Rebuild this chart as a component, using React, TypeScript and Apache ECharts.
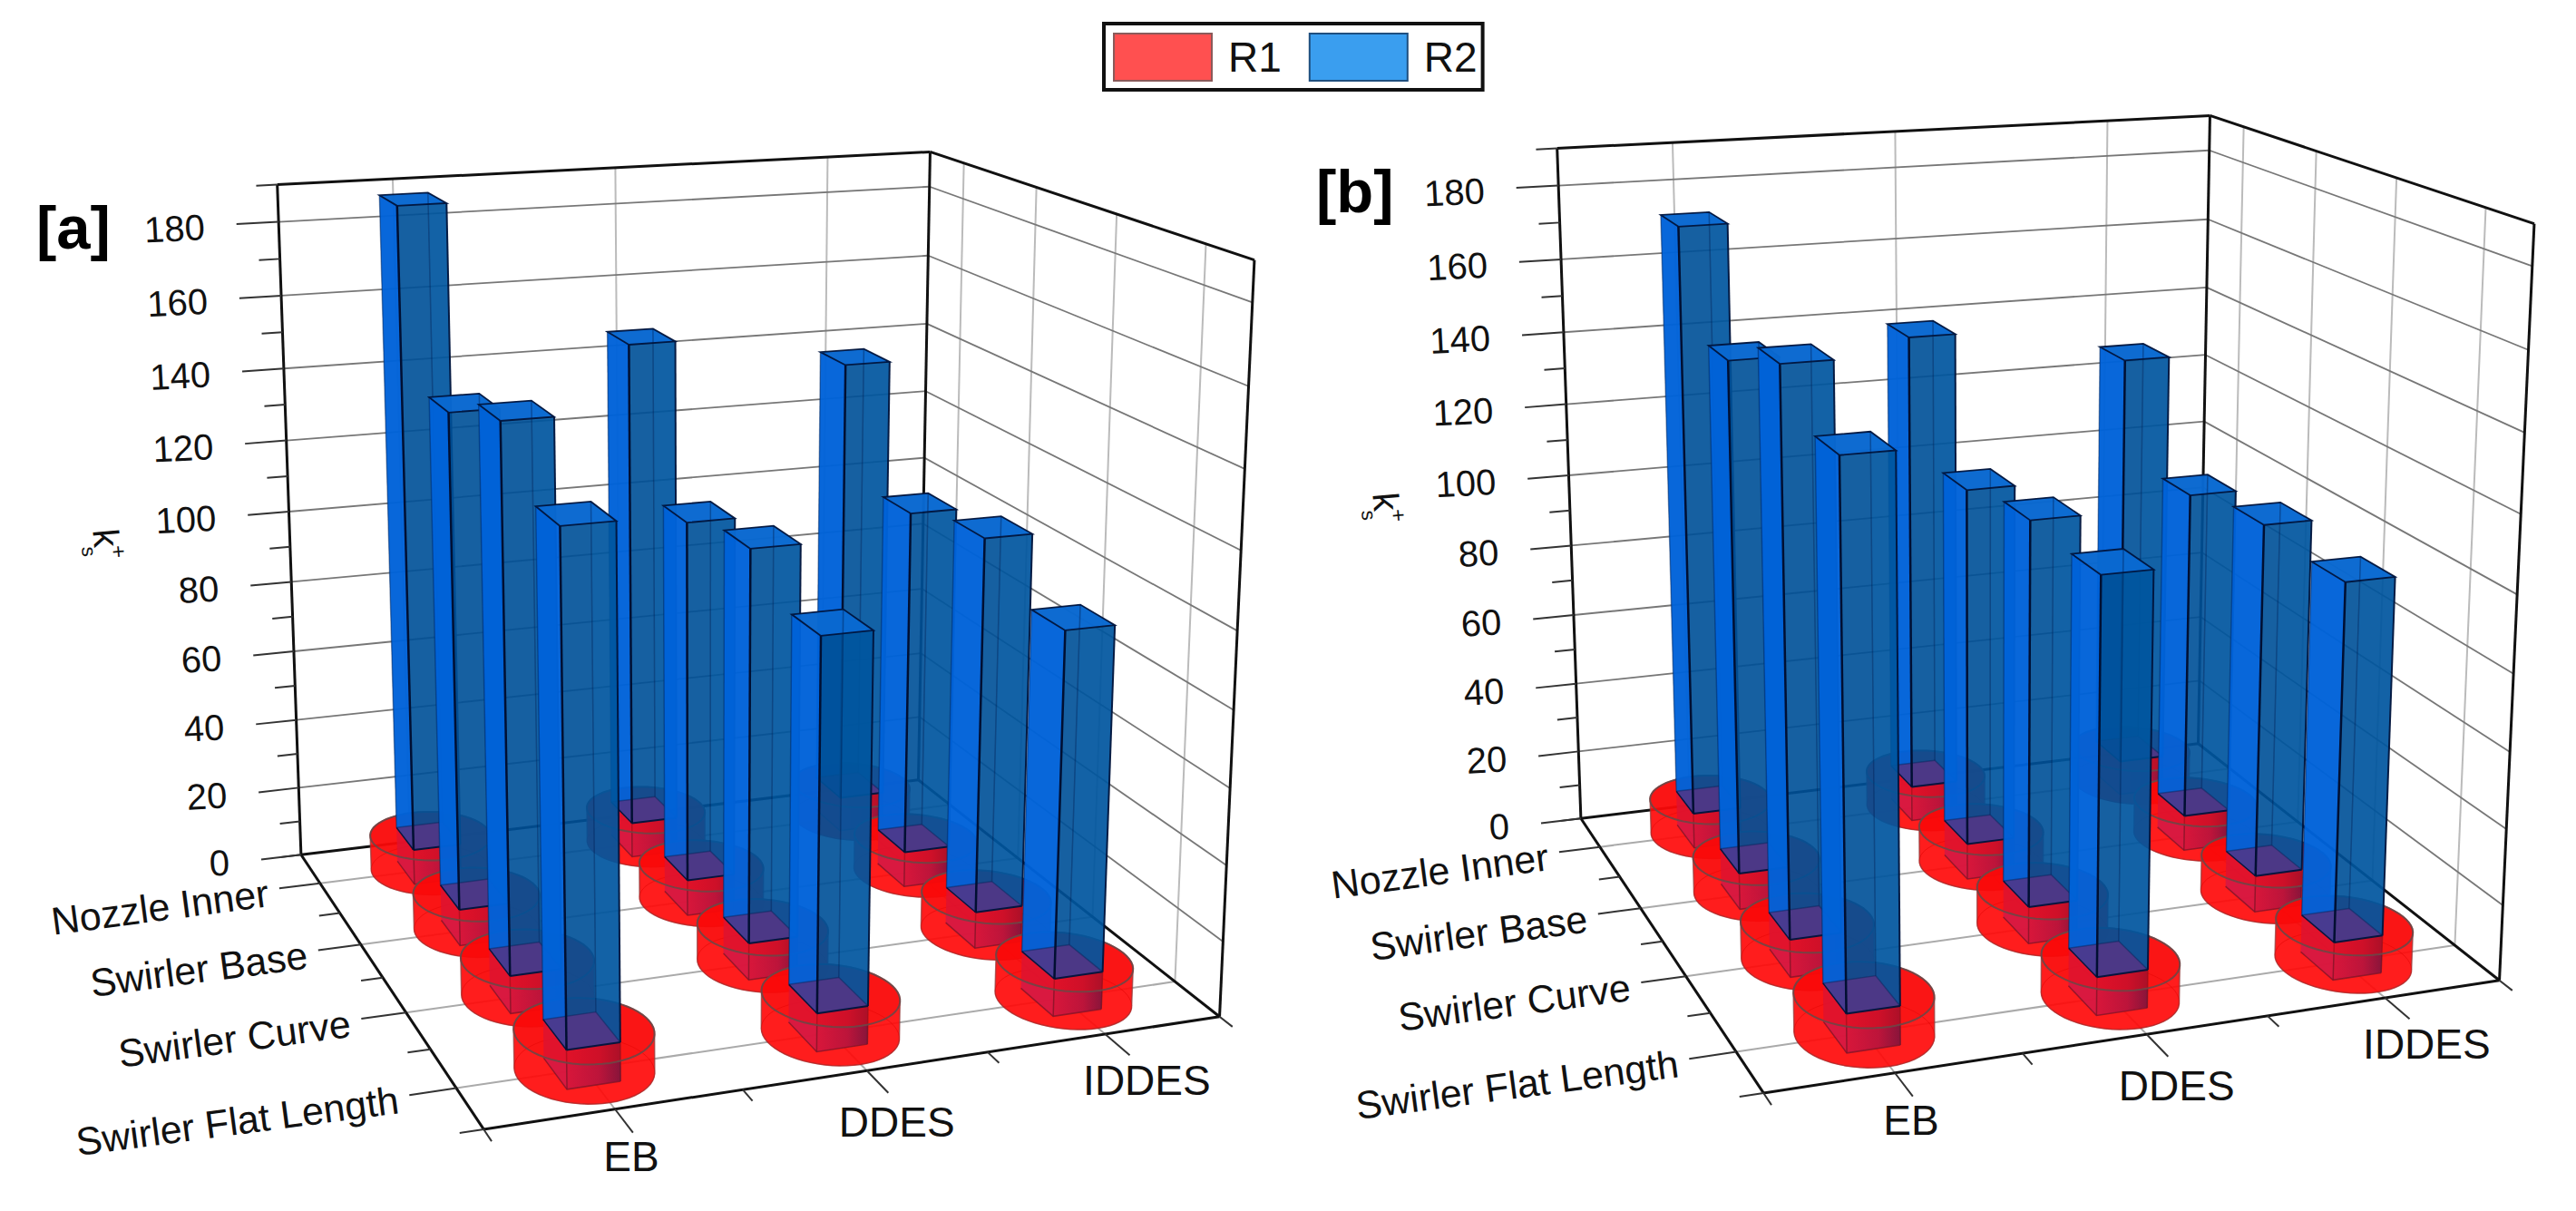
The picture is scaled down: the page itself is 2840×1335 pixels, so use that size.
import React, { useEffect, useRef } from "react";
import * as echarts from "echarts";

const X_CATEGORIES = ["EB", "DDES", "IDDES"];
const Y_CATEGORIES = ["Nozzle Inner", "Swirler Base", "Swirler Curve", "Swirler Flat Length"];
const VALUE_TICKS = [0, 20, 40, 60, 80, 100, 120, 140, 160, 180];
const VALUE_MAX = 190;

// one run per method (EB, DDES, IDDES), four surfaces in each
const R1_A = [10, 10, 10, 10, 10, 10, 10, 10, 10, 10, 10, 10];
const R1_B = [10, 10, 10, 10, 10, 10, 10, 10, 10, 10, 10, 10];
const R2_A = [188, 143, 151, 137, 147, 109, 114, 105, 137, 106, 111, 100];
const R2_B = [173, 147, 156, 145, 139, 108, 112, 111, 128, 101, 105, 103];

const FX = 1.1042, FY = 1.1745;
const CAMERA: number[][] = [
  [0,0,0,365,1105],[0,0,1,337,238],[1,0,0,1117,1010],[1,0,1,1133,196],
  [1,1,0,1483,1315],[1,1,1,1526,338],[0,1,0,585,1460],
  [0,0,180/190,340,287],[0,0,100/190,352,665],
  [1,0,180/190,1132,241],[1,0,100/190,1124,593],
  [1/6,1,0,750,1437],[5/6,1,0,1350,1340],[0,1/8,0,392,1145],
].map((r) => [r[0], r[1], r[2], r[3] / FX / 1000, r[4] / FY / 1000]);

function solve(A: number[][], b: number[]) {
  const n = b.length;
  const M = A.map((r, i) => [...r, b[i]]);
  for (let c = 0; c < n; c++) {
    let p = c;
    for (let r = c + 1; r < n; r++) if (Math.abs(M[r][c]) > Math.abs(M[p][c])) p = r;
    [M[c], M[p]] = [M[p], M[c]];
    for (let r = 0; r < n; r++) {
      if (r === c) continue;
      const f = M[r][c] / M[c][c];
      for (let k = c; k <= n; k++) M[r][k] -= f * M[c][k];
    }
  }
  return M.map((r, i) => r[n] / r[i]);
}
function fitCamera() {
  const rows: number[][] = [];
  const rhs: number[] = [];
  for (const [u, v, w, sx, sy] of CAMERA) {
    rows.push([u, v, w, 1, 0, 0, 0, 0, -sx * u, -sx * v, -sx * w]); rhs.push(sx);
    rows.push([0, 0, 0, 0, u, v, w, 1, -sy * u, -sy * v, -sy * w]); rhs.push(sy);
  }
  const N = 11;
  const AtA = Array.from({ length: N }, () => new Array(N).fill(0));
  const Atb = new Array(N).fill(0);
  rows.forEach((r, i) => {
    for (let a = 0; a < N; a++) {
      Atb[a] += r[a] * rhs[i];
      for (let c = 0; c < N; c++) AtA[a][c] += r[a] * r[c];
    }
  });
  return solve(AtA, Atb);
}
const P = fitCamera();
const PANEL_OFFSET = [[0, 0], [1411, -40]];
function project(x: number, y: number, z: number, panel: number): number[] {
  const u = (x - 0.5) / 3, v = (y - 0.5) / 4, w = z / VALUE_MAX;
  const d = P[8] * u + P[9] * v + P[10] * w + 1;
  return [
    ((P[0] * u + P[1] * v + P[2] * w + P[3]) / d) * 1000 + PANEL_OFFSET[panel][0],
    ((P[4] * u + P[5] * v + P[6] * w + P[7]) / d) * 1000 + PANEL_OFFSET[panel][1],
  ];
}
const HX = 0.105, HY = 0.2, SHIFT = -0.01, RX = 0.26, RY = 0.42;

function rankOf(i: number, j: number) {
  const order: number[][] = [];
  X_CATEGORIES.forEach((_, a) => Y_CATEGORIES.forEach((_, b) => order.push([a, b, project(a + 1, b + 1, 0, 0)[1]])));
  order.sort((p, q) => p[2] - q[2]);
  return order.findIndex((o) => o[0] === i && o[1] === j);
}
function hull(points: number[][]) {
  const pts = [...points].sort((a, b) => a[0] - b[0] || a[1] - b[1]);
  const cross = (o: number[], a: number[], b: number[]) => (a[0] - o[0]) * (b[1] - o[1]) - (a[1] - o[1]) * (b[0] - o[0]);
  const lo: number[][] = [], up: number[][] = [];
  for (const p of pts) { while (lo.length >= 2 && cross(lo[lo.length - 2], lo[lo.length - 1], p) <= 0) lo.pop(); lo.push(p); }
  for (const p of pts.slice().reverse()) { while (up.length >= 2 && cross(up[up.length - 2], up[up.length - 1], p) <= 0) up.pop(); up.push(p); }
  return lo.slice(0, -1).concat(up.slice(0, -1));
}
const poly = (points: number[][], fill: any, z2: number, stroke = "none", lineWidth = 0) => ({
  type: "polygon", shape: { points }, style: { fill, stroke, lineWidth }, z2, silent: true,
});
const line = (points: number[][], stroke: string, lineWidth: number, z2: number) => ({
  type: "polyline", shape: { points }, style: { fill: "none", stroke, lineWidth }, z2, silent: true,
});
function boxCorners(x: number, y: number, z0: number, z1: number, panel: number) {
  const c = (sx: number, sy: number, z: number) => project(x + SHIFT + sx * HX, y + sy * HY, z, panel);
  return {
    lb0: c(-1, -1, z0), rb0: c(1, -1, z0), lf0: c(-1, 1, z0), rf0: c(1, 1, z0),
    lb1: c(-1, -1, z1), rb1: c(1, -1, z1), lf1: c(-1, 1, z1), rf1: c(1, 1, z1),
  };
}
function renderR1(panel: number) {
  return (_: any, api: any) => {
    const i = api.value(0), j = api.value(1), h = api.value(2);
    const x = i + 1, y = j + 1, base = rankOf(i, j) * 40;
    const ring = (z: number) => Array.from({ length: 60 }, (_, k) => {
      const t = (k / 60) * 2 * Math.PI;
      return project(x + RX * Math.cos(t), y + RY * Math.sin(t), z, panel);
    });
    const bot = ring(0), top = ring(h);
    const b = boxCorners(x, y, 0, h, panel);
    const grad = new echarts.graphic.LinearGradient(0, 0, 1, 0, [
      { offset: 0, color: "rgba(214,22,60,0.95)" }, { offset: 0.6, color: "rgba(185,20,60,0.95)" }, { offset: 1, color: "rgba(130,20,60,0.95)" },
    ]);
    return {
      type: "group",
      children: [
        poly(hull([...bot, ...top]), "rgba(255,10,10,0.92)", base, "rgba(150,60,60,0.75)", 1.5),
        line([...bot, bot[0]], "rgba(220,0,0,0.5)", 1, base + 1),
        poly([b.lb0, b.lf0, b.lf1, b.lb1], "rgba(210,25,70,0.85)", base + 2),
        poly([b.lf0, b.rf0, b.rf1, b.lf1], grad, base + 3),
        line([b.lb0, b.lf0, b.rf0], "rgba(130,20,40,0.8)", 1.5, base + 4),
        line([b.lf0, b.lf1], "rgba(130,20,40,0.8)", 1.5, base + 4),
        line([b.rf0, b.rf1], "rgba(110,20,40,0.8)", 1.5, base + 4),
        poly(top, "rgba(240,10,10,0.35)", base + 5),
        line([...top, top[0]], "rgba(110,70,70,0.9)", 2, base + 6),
      ],
    };
  };
}
function renderR2(panel: number) {
  return (_: any, api: any) => {
    const i = api.value(0), j = api.value(1), v = api.value(2), h = api.value(3);
    const x = i + 1, y = j + 1, base = rankOf(i, j) * 40 + 10;
    const b = boxCorners(x, y, h, v, panel);
    const edge = "rgba(0,20,60,0.95)", soft = "rgba(0,35,90,0.45)";
    return {
      type: "group",
      children: [
        poly([b.lb0, b.rb0, b.rb1, b.lb1], "rgba(0,70,145,0.6)", base + 1),
        poly([b.rb0, b.rf0, b.rf1, b.rb1], "rgba(0,105,190,0.65)", base + 2),
        poly([b.lb0, b.lf0, b.lf1, b.lb1], "rgba(0,100,220,0.92)", base + 3),
        poly([b.lf0, b.rf0, b.rf1, b.lf1], "rgba(0,82,152,0.78)", base + 4),
        poly([b.lb0, b.rb0, b.rf0, b.lf0], "rgba(80,55,135,0.88)", base + 5),
        poly([b.lf1, b.rf1, b.rb1, b.lb1], "rgba(10,105,210,0.95)", base + 5),
        line([b.rb0, b.rb1], soft, 1.5, base + 6),
        line([b.lb0, b.lb1], soft, 1.5, base + 6),
        line([b.lb0, b.rb0], soft, 1.5, base + 6),
        line([b.lf0, b.rf0], edge, 2, base + 7),
        line([b.lb0, b.lf0], edge, 1.5, base + 7),
        line([b.rf0, b.rb0], soft, 1.5, base + 7),
        line([b.lf0, b.lf1], "rgba(0,15,50,1)", 2.5, base + 7),
        line([b.rf0, b.rf1], edge, 2, base + 7),
        line([b.lf1, b.rf1, b.rb1, b.lb1, b.lf1], edge, 1.8, base + 8),
      ],
    };
  };
}
function axesGraphic(panel: number, tag: string): any[] {
  const out: any[] = [];
  const L = (a: number[], b: number[], stroke: string, w: number) =>
    out.push({ type: "line", silent: true, shape: { x1: a[0], y1: a[1], x2: b[0], y2: b[1] }, style: { stroke, lineWidth: w } });
  const T = (text: string, x: number, y: number, fontSize: number, align: string, rotDeg: number, extra: any = {}) =>
    out.push({
      type: "text", silent: true, x, y, rotation: (rotDeg * Math.PI) / 180,
      style: { text, fontSize, fontFamily: "Liberation Sans", fill: "#111", align, textAlign: align, verticalAlign: "middle", textVerticalAlign: "middle", ...extra },
    });
  const p = (x: number, y: number, z: number) => project(x, y, z, panel);
  const H = "#777", V = "#bbb", FLOOR = "#aaa";
  X_CATEGORIES.forEach((_, i) => {
    L(p(i + 1, 0.5, 0), p(i + 1, 0.5, VALUE_MAX), V, 2);
    L(p(i + 1, 0.5, 0), p(i + 1, 4.5, 0), FLOOR, 2);
  });
  Y_CATEGORIES.forEach((_, j) => {
    L(p(3.5, j + 1, 0), p(3.5, j + 1, VALUE_MAX), V, 2);
    L(p(0.5, j + 1, 0), p(3.5, j + 1, 0), FLOOR, 2);
  });
  for (const z of VALUE_TICKS.slice(1)) {
    L(p(0.5, 0.5, z), p(3.5, 0.5, z), H, 1.8);
    L(p(3.5, 0.5, z), p(3.5, 4.5, z), H, 1.8);
  }
  const K = "#111";
  L(p(0.5, 0.5, 0), p(0.5, 0.5, VALUE_MAX), K, 3);
  L(p(0.5, 0.5, VALUE_MAX), p(3.5, 0.5, VALUE_MAX), K, 3);
  L(p(3.5, 0.5, VALUE_MAX), p(3.5, 4.5, VALUE_MAX), K, 3);
  L(p(3.5, 0.5, 0), p(3.5, 0.5, VALUE_MAX), K, 3);
  L(p(3.5, 4.5, 0), p(3.5, 4.5, VALUE_MAX), K, 3);
  L(p(0.5, 0.5, 0), p(3.5, 0.5, 0), K, 3);
  L(p(3.5, 0.5, 0), p(3.5, 4.5, 0), K, 3);
  L(p(0.5, 4.5, 0), p(3.5, 4.5, 0), K, 3);
  L(p(0.5, 0.5, 0), p(0.5, 4.5, 0), K, 3);
  for (let z = 0; z <= VALUE_MAX; z += 10) {
    const major = z % 20 === 0;
    const end = p(0.5 - (major ? 0.18 : 0.09), 0.5, z);
    L(p(0.5, 0.5, z), end, "#333", 2);
    if (major) T(String(z), end[0] - 35, end[1] + 3, 40, "right", 3);
  }
  for (let y = 0.5; y <= 4.5; y += 0.5) {
    const major = Number.isInteger(y);
    const end = p(0.5 - (major ? 0.18 : 0.09), y, 0);
    L(p(0.5, y, 0), end, "#333", 2);
    if (major) T(Y_CATEGORIES[y - 1], end[0] - 12, end[1] + 5, 43, "right", 7.5);
  }
  const X_LABEL_SHIFT = [[18, 52], [33, 57], [46, 51]];
  for (let x = 0.5; x <= 3.5; x += 0.5) {
    const major = Number.isInteger(x);
    const root = p(x, 4.5, 0);
    L(root, p(x, 4.5 + (major ? 0.28 : 0.14), 0), "#333", 2);
    if (major) T(X_CATEGORIES[x - 1], root[0] + X_LABEL_SHIFT[x - 1][0], root[1] + X_LABEL_SHIFT[x - 1][1], 46, "center", 0);
  }
  const o = PANEL_OFFSET[panel];
  T(tag, 40 + o[0], 250 + o[1], 67, "left", 0, { fontWeight: "bold", fill: "#000" });
  T("k", 117 + o[0], 593 + o[1], 40, "center", -85);
  T("+", 131 + o[0], 608 + o[1], 24, "center", -85);
  T("s", 98 + o[0], 608 + o[1], 22, "center", -85);
  return out;
}

export default function App() {
  const ref = useRef<HTMLDivElement>(null);
  useEffect(() => {
    const chart = echarts.init(ref.current!, null, { renderer: "svg" });
    const items = (r1: number[], r2: number[]) =>
      r1.map((_, k) => [Math.floor(k / 4), k % 4, r2[k], r1[k]]);
    const r1Items = (r1: number[]) => r1.map((h, k) => [Math.floor(k / 4), k % 4, h]);
    chart.setOption({
      animation: false,
      backgroundColor: "#fff",
      legend: {
        data: [
          { name: "R1", itemStyle: { color: "#ff5050", borderColor: "#8a5a5a", borderWidth: 2 } },
          { name: "R2", itemStyle: { color: "#3a9eef", borderColor: "#1f4f7f", borderWidth: 2 } },
        ],
        left: 1217, top: 26, orient: "horizontal", icon: "rect",
        itemWidth: 108, itemHeight: 52, itemGap: 30, padding: [10, 6, 9, 10],
        borderColor: "#111", borderWidth: 4, selectedMode: false,
        textStyle: { fontSize: 46, fontFamily: "Liberation Sans", color: "#111", padding: [0, 0, 0, 13] },
      },
      graphic: { elements: [...axesGraphic(0, "[a]"), ...axesGraphic(1, "[b]")] },
      series: [
        { type: "custom", name: "R1", coordinateSystem: "none", renderItem: renderR1(0), data: r1Items(R1_A), itemStyle: { color: "#ff5050" } },
        { type: "custom", name: "R2", coordinateSystem: "none", renderItem: renderR2(0), data: items(R1_A, R2_A), itemStyle: { color: "#3a9eef" } },
        { type: "custom", name: "R1", coordinateSystem: "none", renderItem: renderR1(1), data: r1Items(R1_B), itemStyle: { color: "#ff5050" } },
        { type: "custom", name: "R2", coordinateSystem: "none", renderItem: renderR2(1), data: items(R1_B, R2_B), itemStyle: { color: "#3a9eef" } },
      ],
    });
    return () => chart.dispose();
  }, []);
  return <div ref={ref} style={{ position: "fixed", left: 0, top: 0, width: 2840, height: 1335, background: "#fff" }} />;
}
